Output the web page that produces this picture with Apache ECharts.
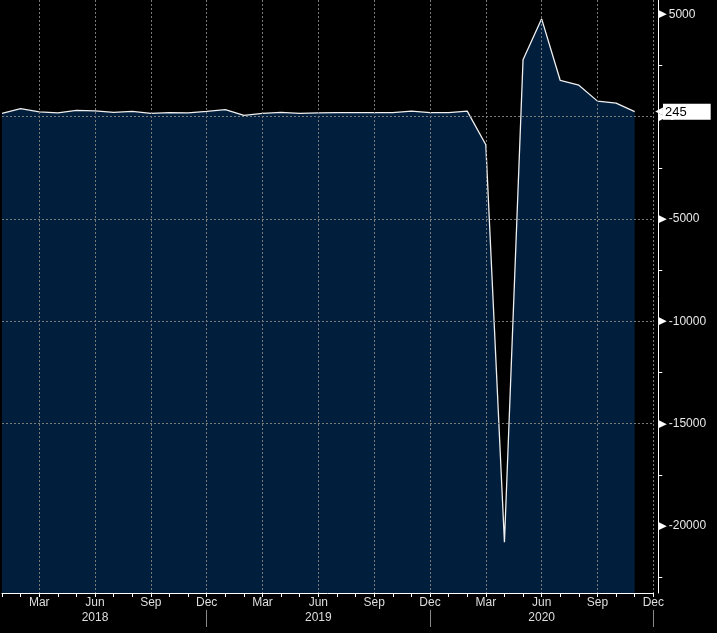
<!DOCTYPE html>
<html><head><meta charset="utf-8">
<script src="https://cdn.jsdelivr.net/npm/echarts@6/dist/echarts.min.js"></script>
<style>html,body{margin:0;padding:0;background:#000}#c{width:717px;height:633px}</style>
</head><body><div id="c"></div>
<script>
const years = ['2018', '2019', '2020'];
const monthNames = ['Jan','Feb','Mar','Apr','May','Jun','Jul','Aug','Sep','Oct','Nov','Dec'];
const categories = [];
years.forEach(y => monthNames.forEach(m => categories.push(m + ' ' + y)));

// Monthly change in nonfarm payrolls (thousands)
const payrolls2018 = [160, 390, 230, 190, 310, 280, 210, 260, 160, 200, 190, 260];
const payrolls2019 = [340, 60, 160, 210, 160, 190, 200, 200, 200, 200, 270, 200];
const payrolls2020 = [200, 270, -1370, -20790, 2780, 4780, 1770, 1540, 760, 660, 245];
const values = payrolls2018.concat(payrolls2019, payrolls2020);

const yMajorTicks = [5000, 0, -5000, -10000, -15000, -20000];
const yMinorTicks = [2500, -2500, -7500, -12500, -17500, -22500];
const yMin = -23270, yMax = 5700;

const FONT = "'Liberation Sans', Arial, sans-serif";
const gridColor = '#7a7a7a';

const chart = echarts.init(document.getElementById('c'), null, {renderer: 'canvas'});
chart.setOption({
  animation: false,
  backgroundColor: '#000',
  textStyle: {fontFamily: FONT},
  grid: {left: 2, right: 63.7, top: 0, bottom: 40},
  xAxis: [{
    type: 'category', data: categories, boundaryGap: false, position: 'bottom', z: 10,
    axisLine: {show: true, onZero: false, lineStyle: {color: '#fff', width: 1}},
    axisTick: {show: true, interval: 0, length: 4, lineStyle: {color: '#fff'}},
    axisLabel: {interval: (i) => i % 3 === 2, formatter: v => v.split(' ')[0],
      color: '#dedede', fontSize: 12, margin: 4, fontFamily: FONT},
    splitLine: {show: true, interval: (i) => i % 3 === 2,
      lineStyle: {color: gridColor, type: [2, 2], width: 1}}
  }, {
    type: 'category', data: categories, boundaryGap: false, position: 'bottom', offset: 17,
    axisLine: {show: false, onZero: false},
    axisTick: {show: true, interval: (i) => i % 12 === 11, length: 17, lineStyle: {color: '#8a8a8a'}},
    axisLabel: {interval: (i) => i % 12 === 5, formatter: v => v.split(' ')[1],
      color: '#dedede', fontSize: 12, margin: 2, fontFamily: FONT},
    splitLine: {show: false}
  }],
  yAxis: [{
    type: 'value', position: 'right', offset: 5, min: yMin, max: yMax, z: 10,
    axisLine: {show: false, onZero: false},
    axisTick: {show: false, customValues: yMajorTicks},
    axisLabel: {customValues: yMajorTicks, margin: 0,
      formatter: v => '{t|\u25B6}{v|' + v + '}',
      rich: {t: {fontSize: 11, color: '#fff', fontFamily: 'DejaVu Sans'},
             v: {fontSize: 12, color: '#e8e8e8', padding: [0, 0, 0, 2], fontFamily: FONT}}},
    splitLine: {show: true, showMinLine: false, showMaxLine: false,
      lineStyle: {color: gridColor, type: [2, 2], width: 1}}
  }, {
    type: 'value', position: 'right', offset: 5, min: yMin, max: yMax, z: 10,
    axisLine: {show: true, onZero: false, lineStyle: {color: '#fff', width: 1}},
    axisTick: {show: true, customValues: yMinorTicks, length: 4, lineStyle: {color: '#fff'}},
    axisLabel: {show: false},
    splitLine: {show: false}
  }],
  series: [{
    type: 'line', data: values, xAxisIndex: 0, yAxisIndex: 0, symbol: 'none', z: 2,
    lineStyle: {color: '#efefef', width: 1.3},
    areaStyle: {color: '#011f3d', origin: 'start', opacity: 1},
    markLine: {
      silent: true, symbol: 'none', z: 20,
      lineStyle: {color: 'rgba(0,0,0,0)', width: 1, type: 'solid'},
      data: [{yAxis: values[values.length - 1]}],
      label: {show: true, position: 'end', distance: 2, color: '#000',
        formatter: p => '{a|\u25C0}{b|' + p.value + '}',
        rich: {a: {color: '#fff', fontSize: 10, fontFamily: 'DejaVu Sans'},
               b: {backgroundColor: '#fff', color: '#000', fontSize: 13, lineHeight: 14,
                   padding: [2, 24, 1, 2], fontFamily: FONT}}}
    }
  }]
});
</script>
</body></html>
